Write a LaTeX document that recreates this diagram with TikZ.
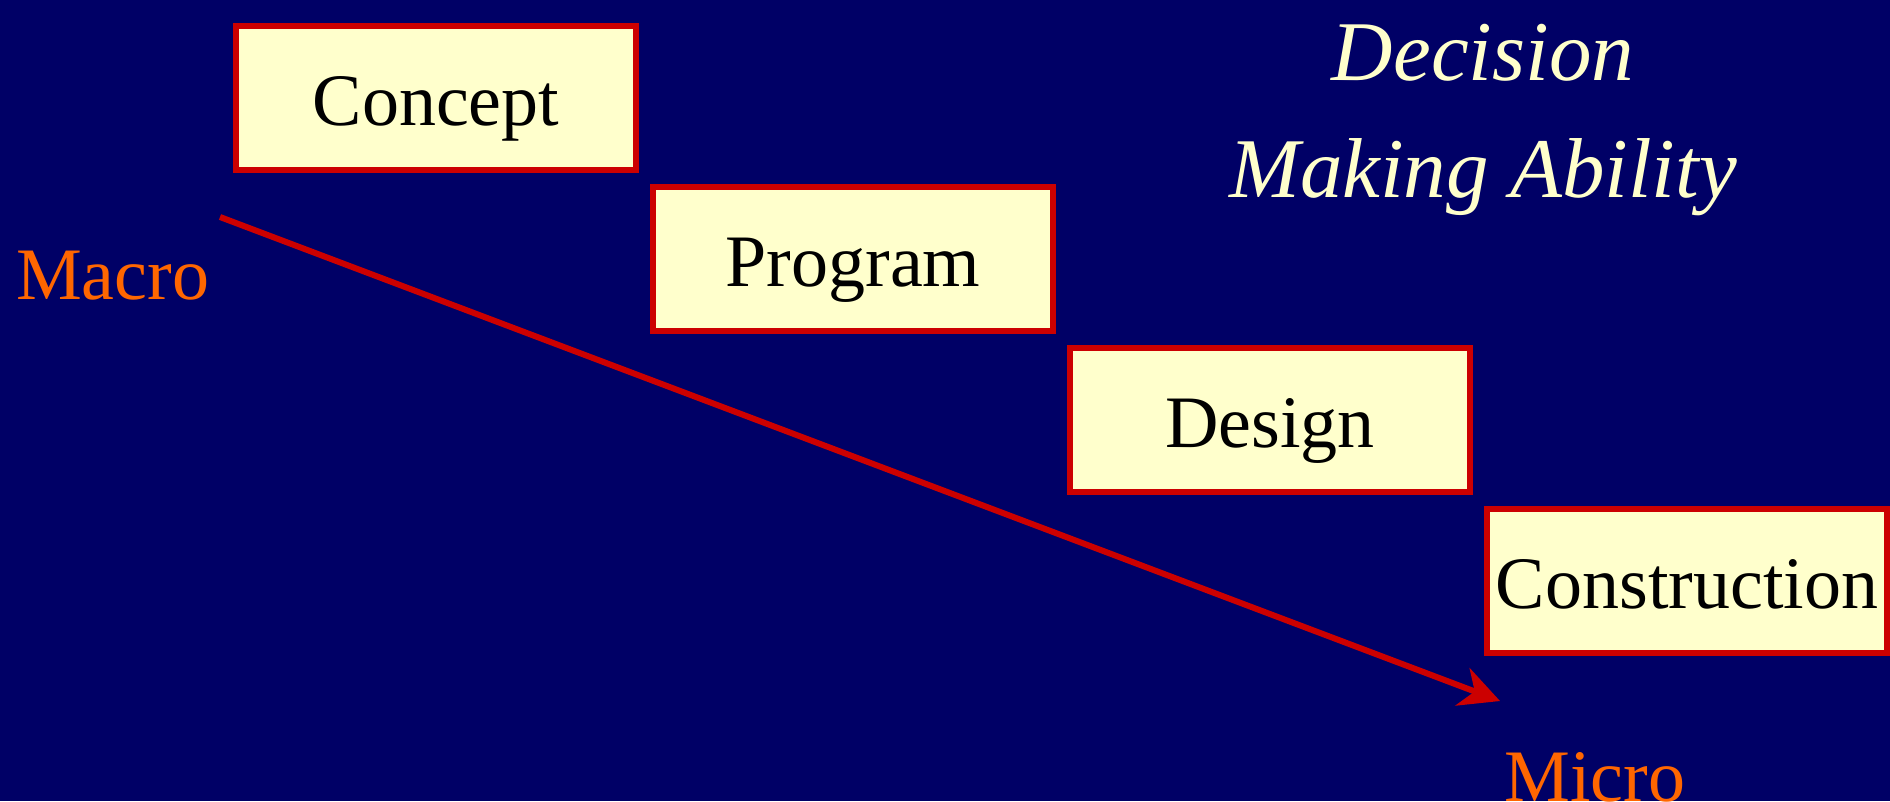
\documentclass[tikz,border=0pt]{standalone}
\usepackage{fontspec}
\setmainfont{Liberation Serif}
\usetikzlibrary{arrows.meta}
\definecolor{slidebg}{HTML}{000066}
\definecolor{boxred}{HTML}{CC0000}
\definecolor{boxfill}{HTML}{FFFFCC}
\definecolor{scaleorange}{HTML}{FF6600}
\definecolor{cream}{HTML}{FFFFCC}
\tikzset{
  stage/.style={draw=boxred, fill=boxfill, line width=6.5pt,
    minimum width=400pt, minimum height=144pt, inner sep=0pt,
    text height=58pt, text depth=4pt,
    font=\fontsize{74}{74}\selectfont, text=black},
  scalelabel/.style={anchor=base west, inner sep=0pt, text=scaleorange,
    font=\fontsize{74}{74}\selectfont},
  heading/.style={anchor=base, inner sep=0pt, text=cream,
    font=\itshape\fontsize{85}{85}\selectfont},
}
\begin{document}
\begin{tikzpicture}[x=1pt,y=-1pt]
  % slide background
  \fill[slidebg] (0,0) rectangle (1890,801);
  \useasboundingbox (0,0) rectangle (1890,801);

  % the four stages, stepping down to the right
  \node[stage] (concept)      at (436,98)  {Concept};
  \node[stage] (program)      at (853,259) {Program};
  \node[stage] (design)       at (1270,420) {Design};
  \node[stage] (construction) at (1687,581) {Construction};

  % heading
  \node[heading] (head1) at (1483,80)  {Decision};
  \node[heading] (head2) at (1483,197) {Making Ability};

  % scale ends
  \node[scalelabel] (macro) at (16,299)   {Macro};
  \node[scalelabel] (micro) at (1504,801) {Micro};

  % macro-to-micro arrow
  \coordinate (arrowstart) at (220,217);
  \coordinate (arrowtip)   at (1500,701);
  \draw[boxred, line width=6pt,
        -{Stealth[length=40pt, width=40pt, inset=13pt]}]
    (arrowstart) -- (arrowtip);
\end{tikzpicture}
\end{document}
